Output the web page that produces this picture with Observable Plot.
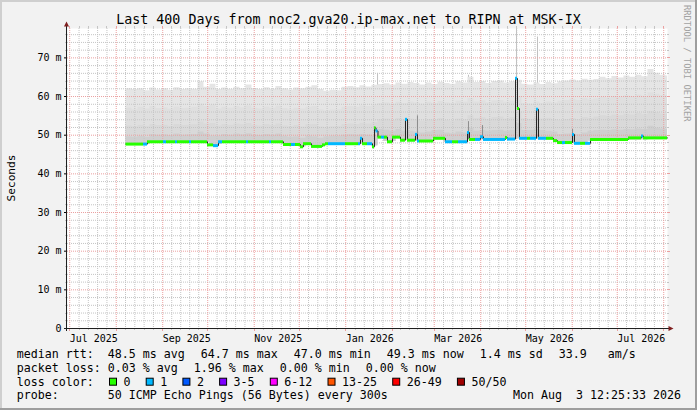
<!DOCTYPE html>
<html><head><meta charset="utf-8">
<script src="https://cdn.jsdelivr.net/npm/d3@7"></script>
<script src="https://cdn.jsdelivr.net/npm/@observablehq/plot@0.6"></script>
<style>
html,body{margin:0;padding:0;background:#f2f2f2;}
#wrap{position:relative;width:697px;height:410px;background:#f2f2f2;overflow:hidden;}
#wrap svg{position:absolute;left:0;top:0;max-width:none;}
</style></head><body>
<div id="wrap"></div>
<script>
const parse = d3.utcParse("%Y-%m-%d %H");
const domainStart = new Date("2025-06-29T12:25:33Z");
const domainEnd = new Date("2026-08-03T12:25:33Z");
const yMax = 77.6;

const yTicks = [0,10,20,30,40,50,60,70];
const xLabelMonths = ["2025-07-01 00","2025-09-01 00","2025-11-01 00","2026-01-01 00","2026-03-01 00","2026-05-01 00","2026-07-01 00"];

// median rtt (ms), step segments starting at these times, with loss count
const medStart = ["2025-08-07 12","2025-08-19 05","2025-08-21 20","2025-09-01 12","2025-09-03 12","2025-09-09 12","2025-09-10 20","2025-09-18 20","2025-09-20 05","2025-09-30 20",
"2025-10-04 20","2025-10-08 05","2025-10-10 20","2025-10-26 20","2025-10-28 05","2025-11-11 05","2025-11-12 12","2025-11-20 12","2025-11-25 20","2025-11-28 12",
"2025-12-01 20","2025-12-03 20","2025-12-09 05","2025-12-16 12","2025-12-18 12","2025-12-20 12","2025-12-31 20","2026-01-09 12","2026-01-10 20","2026-01-12 05",
"2026-01-15 12","2026-01-18 20","2026-01-20 05","2026-01-21 05","2026-01-22 12","2026-01-24 20","2026-01-26 20","2026-01-28 20","2026-02-01 05","2026-02-06 12",
"2026-02-09 20","2026-02-11 05","2026-02-16 12","2026-02-17 20","2026-02-19 05","2026-02-28 12","2026-03-08 12","2026-03-13 05","2026-03-17 05","2026-03-23 05",
"2026-03-24 12","2026-03-28 12","2026-03-31 20","2026-04-02 20","2026-04-17 12","2026-04-18 20","2026-04-24 05","2026-04-25 12","2026-04-26 20","2026-05-02 05",
"2026-05-04 05","2026-05-08 05","2026-05-09 12","2026-05-14 20","2026-05-19 12","2026-05-22 05","2026-05-25 12","2026-05-27 12","2026-06-01 05","2026-06-02 12",
"2026-06-06 12","2026-06-09 20","2026-06-13 05","2026-07-08 12","2026-07-17 05","2026-07-18 12"];
const medValue = [47.7,47.7,48.3,48.3,48.3,48.3,48.3,48.3,48.3,47.5,
47.3,48.3,48.3,48.3,48.3,48.3,48.3,47.6,47.6,47.6,
47.0,47.8,47.1,47.5,47.8,47.8,47.8,47.8,49.2,47.8,
47.8,47.0,51.9,51.1,49.5,49.5,49.5,48.3,49.5,48.7,
54.1,48.7,50.2,48.5,48.5,49.2,48.3,48.3,48.3,50.7,
48.9,48.9,49.6,48.9,49.4,49.0,64.7,56.9,49.2,49.2,
49.2,56.7,49.2,49.2,48.6,48.1,48.1,48.1,50.2,47.9,
47.9,47.9,48.9,49.3,49.8,49.3];
const medLoss = [0,1,0,1,0,1,0,1,0,0,
1,1,0,1,0,1,0,0,1,0,
0,0,0,0,0,1,0,1,1,0,
1,0,0,1,0,1,0,0,0,0,
1,0,1,1,0,0,1,0,1,1,
0,1,1,1,0,1,1,0,1,0,
1,1,1,0,0,0,1,0,1,1,
0,1,0,0,1,0];

const lossLabels = ["0","1","2","3-5","6-12","13-25","26-49","50/50"];
const lossColors = ["#26ff00","#00b8ff","#0059ff","#7e00ff","#ff00ff","#ff5500","#ff0000","#a00000"];

// smoke (ping distribution), 4-day bins from first bin
const smokeFirstBin = "2025-08-07 12";
const smokeMin = [47.6,47.6,47.6,47.6,48.2,48.2,48.2,48.2,48.2,48.2,
48.2,48.2,48.2,48.2,47.4,47.6,48.2,48.2,48.2,48.2,
48.2,48.2,48.2,48.2,48.2,48.2,47.6,47.5,47.5,47.0,
47.7,47.0,47.1,47.7,47.7,47.7,47.7,47.7,47.7,47.7,
47.7,47.3,49.3,48.4,48.4,49.3,48.6,48.6,48.5,48.4,
48.5,49.1,49.1,48.2,48.2,48.2,48.2,48.8,48.8,48.8,
48.8,48.9,48.9,48.9,48.9,49.1,49.1,49.1,49.1,49.1,
48.8,48.6,48.0,48.0,48.0,48.0,48.0,48.5,48.8,48.8,
48.8,48.8,48.8,48.8,48.8,48.8,48.8,49.2,49.2,49.2,49.2];
const smokeLo = [49.6,49.5,49.7,49.5,50.2,50.0,50.1,49.9,50.3,50.0,
50.1,50.2,50.8,50.3,49.8,49.8,50.2,50.0,50.3,50.1,
50.4,50.0,49.9,50.2,50.0,50.3,49.7,49.5,49.6,49.2,
49.8,49.6,49.2,49.6,49.8,49.8,50.0,50.1,50.0,50.2,
50.0,49.8,51.5,51.3,51.0,51.5,51.0,51.0,50.8,50.6,
50.8,51.2,51.3,50.6,50.4,50.8,50.6,51.8,51.0,51.2,
51.0,51.2,51.3,51.0,51.2,53.0,51.2,51.2,51.5,51.2,
51.0,50.8,50.2,50.3,50.4,50.2,50.6,51.0,51.2,51.3,
51.2,51.4,51.3,51.5,51.4,51.6,51.5,52.3,51.8,51.6,51.5];
const smokeMid = [52.4,52.2,52.6,52.3,52.8,52.5,52.6,52.3,52.8,52.5,
52.6,52.7,53.4,52.9,53.0,52.4,52.8,52.6,52.9,52.7,
53.0,52.6,52.4,52.8,52.5,52.9,52.4,52.2,52.5,52.1,
52.7,52.8,52.1,51.9,52.2,52.3,52.8,52.9,52.8,53.1,
52.9,53.2,54.0,54.2,53.8,54.3,53.9,54.2,54.0,53.6,
54.0,53.9,54.3,53.8,53.6,54.2,53.9,55.0,54.3,54.5,
54.1,54.6,54.7,54.2,54.5,56.0,54.3,54.1,54.6,54.2,
54.4,54.0,53.8,54.0,54.3,54.0,54.6,54.4,54.7,55.0,
54.9,55.2,55.0,55.4,55.2,55.6,55.3,56.2,55.8,55.5,55.4];
const smokeHi = [57.0,56.6,57.2,56.8,57.4,56.9,57.1,56.7,57.3,56.9,
57.0,57.2,58.0,57.4,57.8,56.8,57.2,57.0,57.4,57.1,
57.6,57.0,56.8,57.3,57.0,57.5,56.9,56.6,57.0,56.8,
57.2,57.4,56.6,56.3,56.5,56.6,57.2,57.4,57.2,57.6,
57.4,57.8,58.2,58.4,58.0,58.5,58.2,58.6,58.4,58.0,
58.5,58.2,58.7,58.4,58.2,58.8,58.5,59.5,58.6,58.9,
58.4,58.9,59.0,58.5,58.8,60.0,58.2,58.0,58.6,58.2,
58.6,58.3,58.8,59.0,59.3,59.0,59.5,59.2,59.4,59.8,
59.6,60.0,59.8,60.2,60.0,60.4,60.1,61.0,60.6,60.3,60.2];
const smokeMax = [62.0,61.8,62.0,61.5,62.2,61.7,62.0,61.6,62.3,61.8,
62.0,61.9,63.8,62.4,63.2,61.8,62.2,61.9,62.4,62.0,
63.0,62.1,61.8,62.3,61.9,62.6,62.0,61.7,62.2,62.0,
62.4,62.8,61.8,61.4,61.6,61.5,62.4,62.6,62.3,62.8,
62.5,62.9,63.1,63.3,63.0,63.5,63.2,63.6,63.4,63.0,
63.5,63.1,63.7,63.4,63.2,63.8,63.5,65.0,63.6,63.9,
63.4,63.9,64.0,63.5,63.8,64.2,63.2,63.0,63.5,63.1,
63.6,63.3,63.8,64.0,64.3,64.0,64.5,64.2,64.4,65.0,
64.6,65.2,64.8,65.3,65.0,65.5,65.1,67.0,66.0,65.5,65.3];

// single-sample outliers of the slowest pings
const spikeDates = ["2026-01-22 05","2026-03-23 20","2026-04-24 20","2026-05-08 20"];
const spikeTop = [66.0,65.5,77.6,75.4];
const spikeBase = [49.5,48.9,56.9,49.2];
// dense smoke streaks
const streakDates = ["2026-02-17 20","2026-03-23 20","2026-04-02 05","2026-06-01 05"];
const streakTop = [55.0,53.5,52.5,51.5];
const streakBase = [48.5,48.9,48.9,48.0];

const titleText = "Last 400 Days from noc2.gva20.ip-max.net to RIPN at MSK-IX";
const yAxisTitle = "Seconds";
const creditText = "RRDTOOL / TOBI OETIKER";
const rowLabels = ["median rtt:","packet loss:","loss color:","probe:"];
const medianStats = ["48.5 ms avg","64.7 ms max","47.0 ms min","49.3 ms now","1.4 ms sd","33.9   am/s"];
const lossStats = ["0.03 % avg","1.96 % max","0.00 % min","0.00 % now"];
const probeText = "50 ICMP Echo Pings (56 Bytes) every 300s";
const stampText = "Mon Aug  3 12:25:33 2026";

// ---- tables ----
const t0 = parse(smokeFirstBin);
const smoke = smokeMax.map((v,i) => ({date: d3.utcDay.offset(t0, 4*i), min: smokeMin[i], lo: smokeLo[i], mid: smokeMid[i], hi: smokeHi[i], max: v}));
smoke.push({...smoke[smoke.length-1], date: d3.utcDay.offset(t0, 4*smokeMax.length)});
const segs = medStart.map((s,i) => ({start: parse(s), end: i+1 < medStart.length ? parse(medStart[i+1]) : domainEnd, v: medValue[i], color: lossColors[medLoss[i]]}));
const medLine = segs.map(d => ({date: d.start, v: d.v})).concat([{date: domainEnd, v: segs[segs.length-1].v}]);
const spikes = spikeDates.map((d,i) => ({date: parse(d), top: spikeTop[i], base: spikeBase[i]}));
const streaks = streakDates.map((d,i) => ({date: parse(d), top: streakTop[i], base: streakBase[i]}));
const xLabelDates = xLabelMonths.map(m => d3.utcDay.offset(parse(m), 16));

// grid
const months = d3.utcMonth.range(d3.utcMonth.ceil(domainStart), domainEnd);
const minorX = [];
d3.utcMonth.range(d3.utcMonth.floor(domainStart), domainEnd).forEach(m => {
  const n = d3.utcMonth.offset(m, 1);
  for (let i = 1; i < 5; i++) { const t = new Date(+m + (n - m) * i / 5); if (t > domainStart && t < domainEnd) minorX.push(t); }
});
const minorY = d3.range(2, yMax, 2).filter(v => v % 10 !== 0);
const majorY = d3.range(10, yMax, 10);
const gridMinor = "#c4c4c4", gridMajor = "#eb9f9f";

const chart = Plot.plot({
  width: 697, height: 410,
  marginTop: 28, marginBottom: 82, marginLeft: 67, marginRight: 30,
  style: {background: "transparent", fontFamily: "'DejaVu Sans Mono', monospace", fontSize: "10px", color: "#000"},
  x: {type: "utc", domain: [domainStart, domainEnd]},
  y: {domain: [0, yMax]},
  color: {type: "identity"},
  marks: [
    Plot.frame({fill: "#ffffff", stroke: "none"}),
    Plot.ruleX(spikes, {x: "date", y1: "base", y2: "top", stroke: "#c0c0c0", strokeWidth: 1}),
    Plot.areaY(smoke, {x: "date", y1: "min", y2: "max", curve: "step-after", fill: "#e5e5e5", clip: true}),
    Plot.areaY(smoke, {x: "date", y1: "min", y2: "hi", curve: "step-after", fill: "#dfdfdf", clip: true}),
    Plot.areaY(smoke, {x: "date", y1: "min", y2: "mid", curve: "step-after", fill: "#d9d9d9", clip: true}),
    Plot.areaY(smoke, {x: "date", y1: "min", y2: "lo", curve: "step-after", fill: "#cfcfcf", clip: true}),
    Plot.ruleY(minorY, {stroke: gridMinor, strokeDasharray: "1,1"}),
    Plot.ruleX(minorX, {stroke: gridMinor, strokeDasharray: "1,1"}),
    Plot.ruleY(majorY, {stroke: gridMajor, strokeDasharray: "1,1"}),
    Plot.ruleX(months, {stroke: gridMajor, strokeDasharray: "1,1"}),
    Plot.ruleX(streaks, {x: "date", y1: "base", y2: "top", stroke: "#8c8c8c", strokeWidth: 1}),
    Plot.line(medLine, {x: "date", y: "v", curve: "step-after", stroke: "#202020", strokeWidth: 1}),
    Plot.ruleY(segs, {y: "v", x1: "start", x2: "end", stroke: "color", strokeWidth: 3}),
    Plot.axisY({ticks: yTicks, tickFormat: d => d === 0 ? "0" : `${d} m`, tickSize: 3, tickPadding: 3, label: null}),
    Plot.axisX({ticks: xLabelDates, tickFormat: d3.utcFormat("%b %Y"), tickSize: 0, tickPadding: 6, label: null})
  ]
});

const wrap = document.getElementById("wrap");
wrap.appendChild(chart);
const xs = chart.scale("x"), ys = chart.scale("y");
const X = d => xs.apply(d), Y = v => ys.apply(v);
const x0 = X(domainStart), x1 = X(domainEnd), y0 = Y(0), yt = Y(yMax);

const svg = d3.select(wrap).append("svg").attr("width", 697).attr("height", 410)
  .style("font-family", "'DejaVu Sans Mono', monospace");

// shaded border
svg.append("rect").attr("x",0).attr("y",0).attr("width",697).attr("height",2).attr("fill","#cfcfcf");
svg.append("rect").attr("x",0).attr("y",0).attr("width",2).attr("height",410).attr("fill","#cfcfcf");
svg.append("rect").attr("x",0).attr("y",408).attr("width",697).attr("height",2).attr("fill","#9e9e9e");
svg.append("rect").attr("x",695).attr("y",0).attr("width",2).attr("height",410).attr("fill","#9e9e9e");

// grid end ticks
const tk = svg.append("g").attr("stroke-width", 1);
minorX.forEach(t => { const x = Math.round(X(t)) + 0.5;
  tk.append("path").attr("d", `M${x},${yt-2}V${yt}M${x},${y0}V${y0+2}`).attr("stroke", gridMinor); });
months.forEach(t => { const x = Math.round(X(t)) + 0.5;
  tk.append("path").attr("d", `M${x},${yt-2}V${yt}M${x},${y0}V${y0+3}`).attr("stroke", gridMajor); });
minorY.forEach(v => { const y = Math.round(Y(v)) + 0.5;
  tk.append("path").attr("d", `M${x0-2},${y}H${x0}M${x1},${y}H${x1+2}`).attr("stroke", gridMinor); });
majorY.forEach(v => { const y = Math.round(Y(v)) + 0.5;
  tk.append("path").attr("d", `M${x1},${y}H${x1+3}`).attr("stroke", gridMajor); });

// axes with arrows
svg.append("path").attr("d", `M${x0-0.5},${y0+3}V${yt-3}`).attr("stroke", "#1f1f1f");
svg.append("path").attr("d", `M${x0-3},${y0+0.5}H${x1+3}`).attr("stroke", "#1f1f1f");
svg.append("path").attr("d", `M${x0-3},${yt-1.5}L${x0+2},${yt-1.5}L${x0-0.5},${yt-6.5}Z`).attr("fill", "#801f1f");
svg.append("path").attr("d", `M${x1+1.5},${y0-2}L${x1+1.5},${y0+3}L${x1+6.5},${y0+0.5}Z`).attr("fill", "#801f1f");

// title
svg.append("text").attr("x", 348.5).attr("y", 23.5).attr("text-anchor", "middle")
  .attr("font-size", "13.3px").attr("fill", "#000").style("white-space","pre").text(titleText);
// vertical label
svg.append("text").attr("transform", `translate(14.5,${(y0+yt)/2}) rotate(-90)`).attr("text-anchor", "middle")
  .attr("font-size", "11.2px").attr("fill", "#000").text(yAxisTitle);
// credit
svg.append("text").attr("transform", `translate(684,5) rotate(90)`).attr("text-anchor", "start")
  .attr("font-size", "8.8px").attr("fill", "#a2a2a2").text(creditText);

// legend
const fs = 11.63, cw = fs * 0.602, gap = 16;
const baseY = [358.3, 372, 385.7, 399.3];
const legX0 = 16.7, legItemX = 107.7;
function txt(x, y, s, anchor) {
  svg.append("text").attr("x", x).attr("y", y).attr("font-size", fs + "px").attr("fill", "#000")
    .attr("text-anchor", anchor || "start").style("white-space", "pre").text(s);
}
rowLabels.forEach((s, i) => txt(legX0, baseY[i], s));
let lx = legItemX;
medianStats.forEach(s => { txt(lx, baseY[0], s); lx += s.length * cw + gap; });
lx = legItemX;
lossStats.forEach(s => { txt(lx, baseY[1], s); lx += s.length * cw + gap; });
let bx = 109;
lossLabels.forEach((l, i) => {
  svg.append("rect").attr("x", bx + 0.5).attr("y", baseY[2] - 8 + 0.5).attr("width", 7).attr("height", 7)
    .attr("fill", lossColors[i]).attr("stroke", "#000").attr("stroke-width", 1);
  txt(bx + 14.5, baseY[2], l);
  bx += 14.5 + l.length * cw + 15.2;
});
txt(legItemX, baseY[3], probeText);
txt(681, baseY[3], stampText, "end");
</script>
</body></html>
